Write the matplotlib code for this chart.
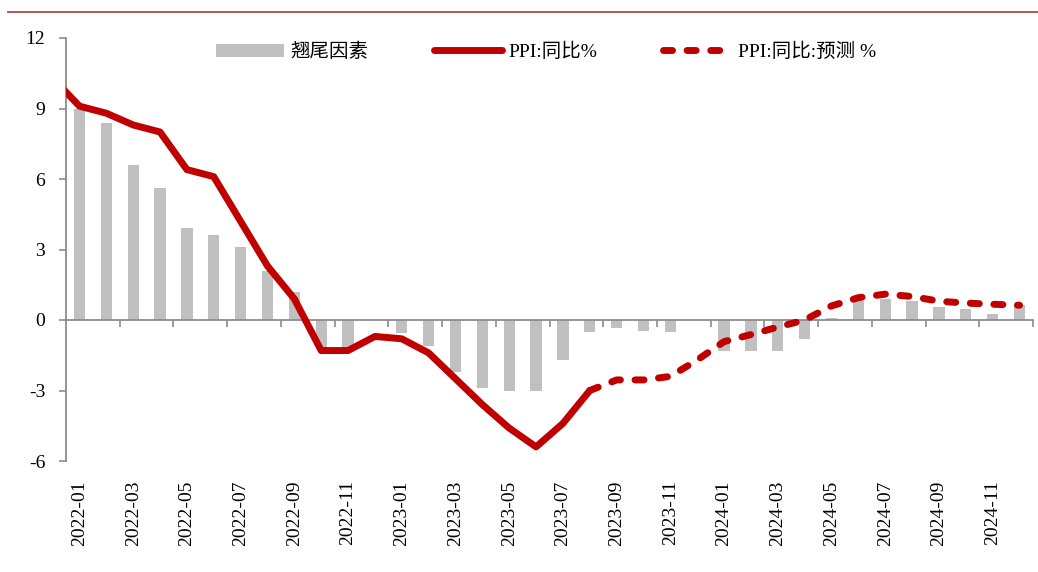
import matplotlib
matplotlib.use("Agg")
import matplotlib.pyplot as plt
from matplotlib.lines import Line2D
from matplotlib.patches import Patch
import numpy as np

# Monthly categories 2022-01 .. 2024-12
months = [f"{y}-{m:02d}" for y in (2022, 2023, 2024) for m in range(1, 13)]

# Carry-over (翘尾) factor, %
carry = [9.0, 8.4, 6.6, 5.6, 3.9, 3.6, 3.1, 2.1, 1.2, -1.2, -1.2, 0.0,
         -0.55, -1.1, -2.2, -2.9, -3.0, -3.0, -1.7, -0.5, -0.32, -0.47, -0.52, 0.0,
         -1.3, -1.3, -1.3, -0.8, 0.1, 0.8, 0.9, 0.8, 0.57, 0.45, 0.26, 0.64]

# PPI YoY, actual: 2021-12 (lead-in point) then 2022-01 .. 2023-08
ppi_lead = 10.3
ppi_actual = [9.1, 8.8, 8.3, 8.0, 6.4, 6.1, 4.2, 2.3, 0.9, -1.3, -1.3, -0.7,
              -0.8, -1.4, -2.5, -3.6, -4.6, -5.4, -4.4, -3.0]

# PPI YoY, forecast: 2023-08 .. 2024-12
ppi_forecast = [-3.0, -2.55, -2.55, -2.4, -1.7, -0.92, -0.62, -0.3, 0.0,
                0.6, 0.95, 1.1, 1.0, 0.8, 0.72, 0.67, 0.63]

y_ticks = [-6, -3, 0, 3, 6, 9, 12]
labels = ["翘尾因素", "PPI:同比%", "PPI:同比:预测 %"]

RED = "#c00000"
BAR = "#c0c0c0"
AXIS = "#8c8c8c"
FONT = ["Liberation Serif", "Noto Sans CJK SC"]

W, H = 1038, 572
fig = plt.figure(figsize=(W / 100, H / 100), dpi=100)
ax = fig.add_axes([66 / W, 1 - 461 / H, (1033 - 66) / W, (461 - 38) / H])

x = np.arange(len(months))
ax.bar(x, carry, width=0.42, color=BAR, zorder=2)

x_act = np.arange(-1, len(ppi_actual))
ax.plot(x_act, [ppi_lead] + ppi_actual, color=RED, lw=5,
        solid_joinstyle="round", solid_capstyle="round", zorder=3)

x_fc = np.arange(len(ppi_actual) - 1, len(ppi_actual) - 1 + len(ppi_forecast))
ax.plot(x_fc, ppi_forecast, color=RED, lw=5, ls=(0, (1.3, 2.1)),
        dash_capstyle="round", zorder=3)

ax.set_xlim(-0.5, len(months) - 0.5)
ax.set_ylim(-6, 12)

for s in ("top", "right"):
    ax.spines[s].set_visible(False)
ax.spines["left"].set_color(AXIS)
ax.spines["left"].set_linewidth(1.3)
ax.spines["bottom"].set_position(("data", 0))
ax.spines["bottom"].set_color(AXIS)
ax.spines["bottom"].set_linewidth(1.3)

ax.set_yticks(y_ticks)
ax.set_yticklabels([str(v) for v in y_ticks], fontfamily=FONT, fontsize=14)
ax.tick_params(axis="y", length=5, width=1.2, color=AXIS, pad=10)

# Tick marks on the zero line at every second month boundary
ax.set_xticks(np.arange(1.5, len(months), 2))
ax.tick_params(axis="x", length=5, width=1.2, color=AXIS, labelbottom=False)

# Month labels along the bottom edge
sec = ax.secondary_xaxis(0)
sec.set_xticks(x[::2])
sec.set_xticklabels(months[::2], rotation=90, fontfamily=FONT, fontsize=14)
sec.tick_params(length=0, pad=14)
sec.spines["bottom"].set_visible(False)

handles = [
    Patch(facecolor=BAR, edgecolor="none"),
    Line2D([], [], color=RED, lw=5, solid_capstyle="round"),
    Line2D([], [], color=RED, lw=5, ls=(0, (1.3, 2.1)), dash_capstyle="round"),
]
ax.legend(handles, labels, loc="center left", bbox_to_anchor=(0.137, 0.967),
          ncol=3, frameon=False, handlelength=3.5, handletextpad=0.35,
          columnspacing=3.35, prop={"family": FONT, "size": 14})

# Header rule
fig.add_artist(Line2D([8 / W, 1], [1 - 12 / H] * 2, transform=fig.transFigure,
                      color="#b0484a", lw=1.3))

fig.savefig("out.png", dpi=100)
